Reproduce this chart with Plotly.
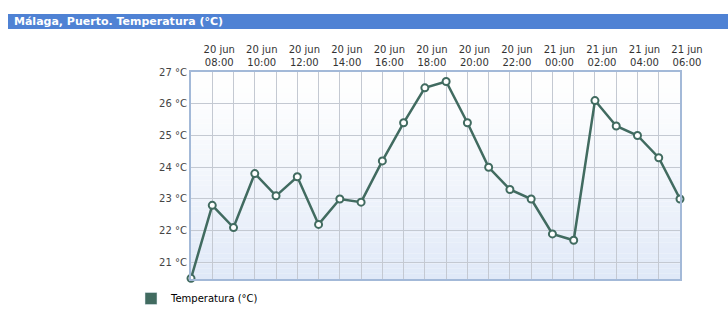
import plotly.graph_objects as go

# ---- data ----
times = ["20 jun 07:00", "20 jun 08:00", "20 jun 09:00", "20 jun 10:00", "20 jun 11:00",
         "20 jun 12:00", "20 jun 13:00", "20 jun 14:00", "20 jun 15:00", "20 jun 16:00",
         "20 jun 17:00", "20 jun 18:00", "20 jun 19:00", "20 jun 20:00", "20 jun 21:00",
         "20 jun 22:00", "20 jun 23:00", "21 jun 00:00", "21 jun 01:00", "21 jun 02:00",
         "21 jun 03:00", "21 jun 04:00", "21 jun 05:00", "21 jun 06:00"]
temps = [20.5, 22.8, 22.1, 23.8, 23.1, 23.7, 22.2, 23.0, 22.9, 24.2,
         25.4, 26.5, 26.7, 25.4, 24.0, 23.3, 23.0, 21.9, 21.7, 26.1,
         25.3, 25.0, 24.3, 23.0]
y_ticks = [21, 22, 23, 24, 25, 26, 27]
y_tick_labels = ["21 °C", "22 °C", "23 °C", "24 °C", "25 °C", "26 °C", "27 °C"]
series_name = "Temperatura (°C)"
title_text = "Málaga, Puerto. Temperatura (°C)"

W, H = 728, 332
L, R, T, B = 191, 680, 72, 279

xs = list(range(len(times)))
tick_idx = [i for i in xs if i % 2 == 1]
tick_text = [times[i][:6] + "<br>" + times[i][7:] for i in tick_idx]

line_col = "#416b60"

fig = go.Figure()
fig.add_trace(go.Scatter(
    x=xs, y=temps, mode="lines+markers", name=series_name, showlegend=False,
    line=dict(color=line_col, width=2.5),
    marker=dict(size=7, color="white", line=dict(color=line_col, width=2)),
    cliponaxis=False,
))
fig.add_trace(go.Bar(x=[None], y=[None], name=series_name, marker_color=line_col,
                     showlegend=True))

shapes = []
# gradient background bands
n = 40
for k in range(n):
    t = (k + 0.5) / n  # 0 top -> 1 bottom
    f = t ** 1.3
    r = int(255 + (224 - 255) * f)
    g = int(255 + (233 - 255) * f)
    b = int(255 + (248 - 255) * f)
    shapes.append(dict(type="rect", xref="x domain", yref="y domain",
                       x0=0, x1=1, y0=1 - (k + 1) / n, y1=1 - k / n,
                       fillcolor=f"rgb({r},{g},{b})", line=dict(width=0), layer="below"))
# title bar
pw, ph = R - L, B - T
shapes.append(dict(type="rect", xref="paper", yref="paper",
                   x0=(8 - L) / pw, x1=(728 - L) / pw,
                   y0=(B - 29) / ph, y1=(B - 14) / ph,
                   fillcolor="#4f82d4", line=dict(width=0), layer="below"))

fig.update_layout(
    width=W, height=H,
    margin=dict(l=L, r=W - R, t=T, b=H - B),
    paper_bgcolor="white", plot_bgcolor="rgba(0,0,0,0)",
    shapes=shapes,
    font=dict(family="DejaVu Sans", size=10, color="#333333"),
    showlegend=True,
    legend=dict(x=(131 - L) / pw, y=(B - 284) / ph, xanchor="left", yanchor="top",
                font=dict(size=10, color="#000000"), bgcolor="rgba(0,0,0,0)",
                itemwidth=30),
    annotations=[dict(text="<b>" + title_text + "</b>", xref="paper", yref="paper",
                      x=(12 - L) / pw, y=(B - 21.5) / ph, xanchor="left", yanchor="middle",
                      showarrow=False, font=dict(family="DejaVu Sans", size=11, color="white"))],
)
fig.update_xaxes(
    range=[0, len(xs) - 1], side="top",
    tickmode="array", tickvals=tick_idx, ticktext=tick_text,
    showgrid=True, gridcolor="#c4c9d2", gridwidth=1,
    minor=dict(tickmode="linear", dtick=1, tick0=0, showgrid=True, gridcolor="#c4c9d2"),
    showline=True, mirror=True, linecolor="#a3b9d8", linewidth=2,
    ticks="", zeroline=False, ticklabelshift=7,
    tickfont=dict(size=10, color="#333333"),
)
fig.update_yaxes(
    range=[20.48, 27], tickmode="array", tickvals=y_ticks, ticktext=y_tick_labels,
    showgrid=True, gridcolor="#c4c9d2", gridwidth=1,
    showline=True, mirror=True, linecolor="#a3b9d8", linewidth=2,
    ticks="", zeroline=False, tickfont=dict(size=10, color="#444444"),
)

fig.write_html("out.html")
